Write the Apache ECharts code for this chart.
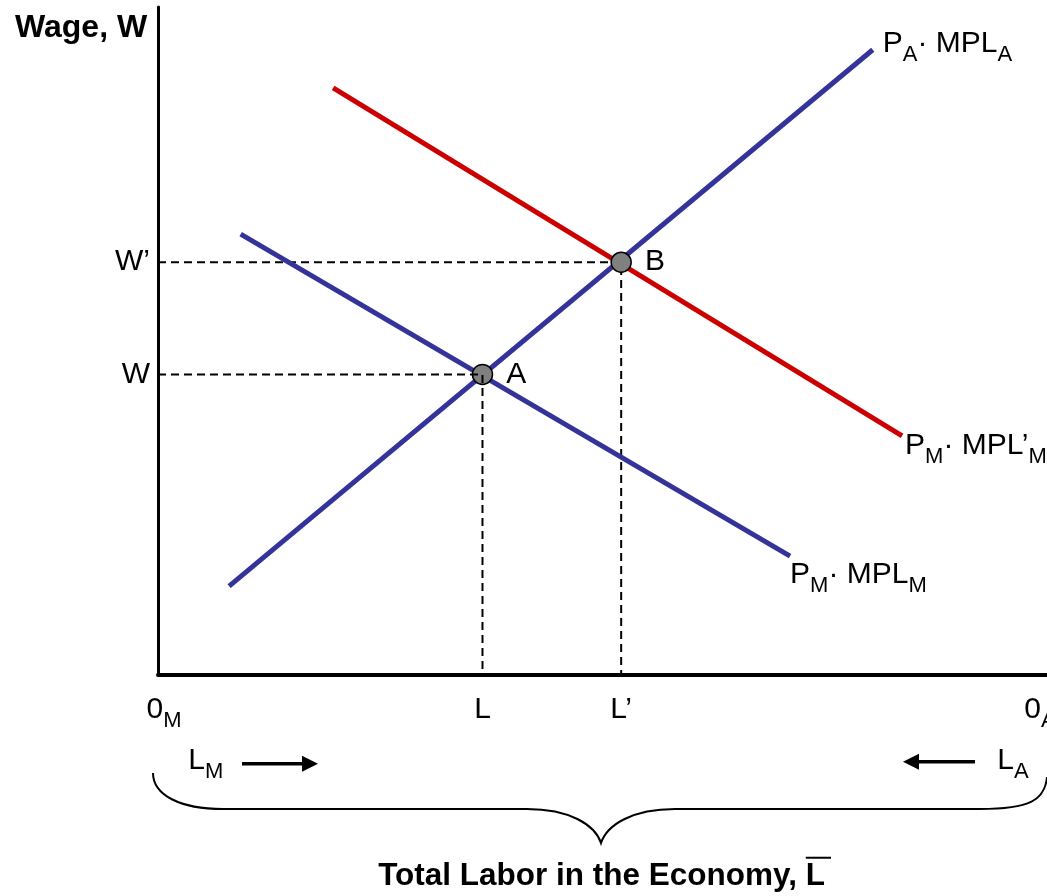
<!DOCTYPE html>
<html>
<head>
<meta charset="utf-8">
<script src="https://cdn.jsdelivr.net/npm/echarts@6/dist/echarts.min.js"></script>
<style>
html, body { margin: 0; padding: 0; background: #fff; }
#chart { width: 1047px; height: 896px; }
</style>
</head>
<body>
<div id="chart"></div>
<script>
// labor (x, 0..100) and wage (y, 0..100)
var mplA = [[8, 13.3], [80.4, 93.6]];      // P_A · MPL_A
var mplM = [[9.3, 66], [71.1, 17.8]];      // P_M · MPL_M
var mplM2 = [[19.7, 87.9], [83.7, 35.8]];  // P_M · MPL'_M
var eqPoints = [[36.5, 45, 'A'], [52.1, 61.8, 'B']];
var wageTicks = [45, 61.8];
var wageLabels = ['W', 'W\u2019'];
var laborTicks = [0, 36.5, 52.1, 100];
var laborLabels = ['{q| }{n|0}{s|M}', '{n|L}', '{n|L\u2019}', '{n|0}{s|A}{p| }'];

// brace under the axis, in the same data units (below zero)
var brace = [
  ['M', [-0.56, -14.67]],
  ['C', [-0.56, -17.96], [2.47, -20.06], [7.31, -20.06]],
  ['L', [41.5, -20.06]],
  ['C', [46.35, -20.06], [49.16, -22.46], [49.83, -25.15]],
  ['C', [50.51, -22.46], [53.32, -20.06], [58.16, -20.06]],
  ['L', [92.46, -20.06]],
  ['C', [98.09, -20.06], [99.78, -18.71], [100, -15.27]]
];
var arrowM = [[9.45, -13.3], [18.0, -13.3]];
var arrowA = [[91.9, -13.0], [83.8, -13.0]];
var labelM = [3.4, -12.9];
var labelA = [94.4, -12.9];
var titlePos = [49.9, -30.2];
var titleText = 'Total Labor in the Economy, ';

var FF = '"Liberation Sans", Arial, Helvetica, sans-serif';
var BLUE = '#333399', RED = '#cc0000';

// main text + lowered subscript
var richStyle = {
  n: { fontFamily: FF, fontSize: 30, color: '#000', lineHeight: 42 },
  s: { fontFamily: FF, fontSize: 22, color: '#000', lineHeight: 20, padding: [22, 0, 0, 0] },
  p: { fontFamily: FF, fontSize: 20, width: 14 },
  q: { fontFamily: FF, fontSize: 20, width: 12 }
};

var chart = echarts.init(document.getElementById('chart'));

function curve(name, data, color, label) {
  return {
    name: name,
    type: 'line',
    data: data,
    symbol: 'none',
    lineStyle: { color: color, width: 5, cap: 'butt' },
    endLabel: {
      show: true,
      formatter: label.text,
      rich: richStyle,
      distance: label.distance,
      offset: label.offset
    },
    z: 3
  };
}

function guide(p, z) {
  return {
    type: 'line',
    data: [[0, p[1]], [p[0], p[1]], [p[0], 0]],
    symbol: 'none',
    lineStyle: { color: '#000', width: 2, type: [8, 5] },
    z: z
  };
}

var measureCtx = document.createElement('canvas').getContext('2d');

function renderBottom(params, api) {
  var children = [];
  var d = '';
  brace.forEach(function (seg) {
    d += seg[0];
    for (var i = 1; i < seg.length; i++) {
      var pt = api.coord(seg[i]);
      d += pt[0].toFixed(1) + ',' + pt[1].toFixed(1) + ' ';
    }
  });
  children.push({ type: 'path', shape: { pathData: d }, style: { fill: 'none', stroke: '#000', lineWidth: 2 } });

  [arrowM, arrowA].forEach(function (a) {
    var s = api.coord(a[0]), e = api.coord(a[1]);
    var dir = e[0] > s[0] ? 1 : -1;
    children.push({ type: 'line', shape: { x1: s[0], y1: s[1], x2: e[0] - dir * 12, y2: e[1] }, style: { stroke: '#000', lineWidth: 3.5 } });
    children.push({ type: 'polygon', shape: { points: [[e[0], e[1]], [e[0] - dir * 16, e[1] - 8], [e[0] - dir * 16, e[1] + 8]] }, style: { fill: '#000' } });
  });

  var lm = api.coord(labelM), la = api.coord(labelA);
  children.push({ type: 'text', x: lm[0], y: lm[1], style: { text: '{n|L}{s|M}', rich: richStyle, align: 'left', verticalAlign: 'middle' } });
  children.push({ type: 'text', x: la[0], y: la[1], style: { text: '{n|L}{s|A}', rich: richStyle, align: 'left', verticalAlign: 'middle' } });

  var tp = api.coord(titlePos);
  var font = 'bold 31.5px ' + FF;
  measureCtx.font = font;
  var wHead = measureCtx.measureText(titleText).width;
  var wL = measureCtx.measureText('L').width;
  var x0 = tp[0] - (wHead + wL) / 2;
  children.push({ type: 'text', x: x0, y: tp[1], style: { text: titleText + 'L', font: font, fill: '#000', align: 'left', verticalAlign: 'middle' } });
  children.push({ type: 'line', shape: { x1: x0 + wHead, y1: tp[1] - 19, x2: x0 + wHead + wL + 6, y2: tp[1] - 19 }, style: { stroke: '#000', lineWidth: 2 } });

  return { type: 'group', children: children };
}

var option = {
  animation: false,
  backgroundColor: '#fff',
  title: {
    text: 'Wage, W',
    left: 10,
    top: 7,
    textStyle: { fontFamily: FF, fontSize: 32, fontWeight: 'bold', color: '#000' }
  },
  grid: { left: 158, top: 7, width: 889, height: 668, containLabel: false, outerBoundsMode: 'none' },
  xAxis: {
    type: 'value',
    min: 0,
    max: 100,
    splitLine: { show: false },
    axisTick: { show: false },
    axisLine: { lineStyle: { color: '#000', width: 4 } },
    axisLabel: {
      customValues: laborTicks,
      formatter: function (v) { return laborLabels[laborTicks.indexOf(v)]; },
      rich: richStyle,
      margin: 14
    }
  },
  yAxis: {
    type: 'value',
    min: 0,
    max: 100,
    splitLine: { show: false },
    axisTick: { show: false },
    axisLine: { lineStyle: { color: '#000', width: 3 } },
    axisLabel: {
      customValues: wageTicks,
      formatter: function (v) { return wageLabels[wageTicks.indexOf(v)]; },
      fontFamily: FF,
      fontSize: 30,
      color: '#000',
      margin: 8
    }
  },
  series: [
    guide(eqPoints[0], 5),
    guide(eqPoints[1], 2),
    curve('mplM', mplM, BLUE, { text: '{n|P}{s|M}{n|\u00b7 MPL}{s|M}', distance: 0, offset: [0, 19] }),
    curve('mplM2', mplM2, RED, { text: '{n|P}{s|M}{n|\u00b7 MPL\u2019}{s|M}', distance: 3, offset: [0, 10] }),
    curve('mplA', mplA, BLUE, { text: '{n|P}{s|A}{n|\u00b7 MPL}{s|A}', distance: 10, offset: [0, -6] }),
    {
      type: 'scatter',
      data: eqPoints.map(function (p) { return [p[0], p[1], p[2]]; }),
      symbolSize: 20,
      itemStyle: { color: '#808080', borderColor: '#000', borderWidth: 1.5, opacity: 1 },
      label: {
        show: true,
        position: 'right',
        distance: 13,
        formatter: function (p) { return p.value[2]; },
        fontFamily: FF,
        fontSize: 30,
        color: '#000'
      },
      z: 4
    },
    {
      type: 'custom',
      clip: false,
      silent: true,
      data: [[0, 0]],
      renderItem: renderBottom,
      z: 1
    }
  ]
};

chart.setOption(option);
window.onresize = chart.resize;
</script>
</body>
</html>
